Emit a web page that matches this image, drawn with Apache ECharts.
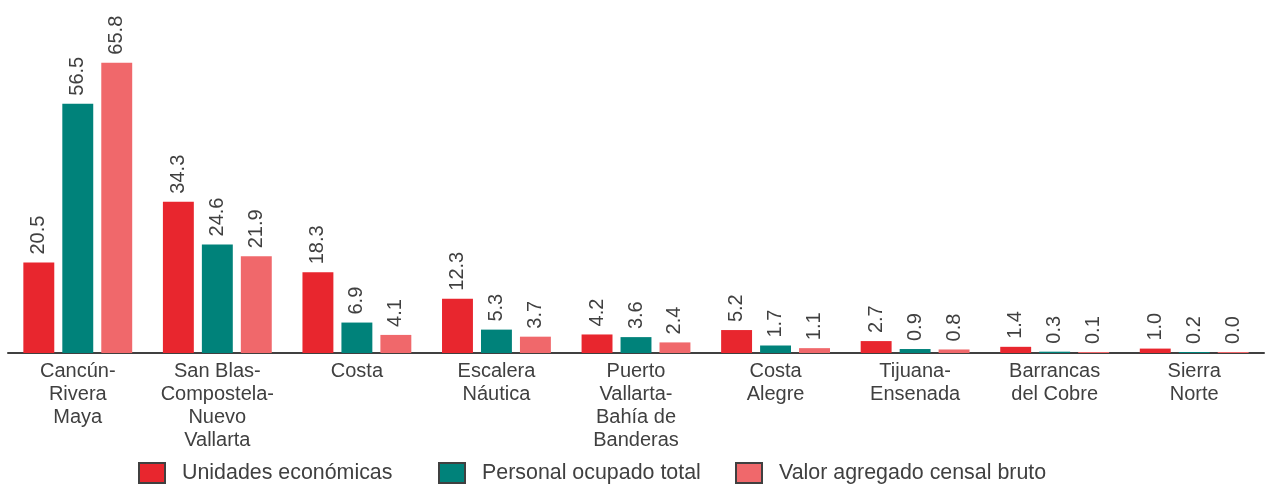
<!DOCTYPE html>
<html>
<head>
<meta charset="utf-8">
<script src="https://cdn.jsdelivr.net/npm/echarts@6/dist/echarts.min.js"></script>
<style>html,body{margin:0;padding:0;background:#fff}#c{width:1265px;height:486px}</style>
</head>
<body>
<div id="c"></div>
<script>
const categories = ["Cancún-\nRivera\nMaya", "San Blas-\nCompostela-\nNuevo\nVallarta", "Costa", "Escalera\nNáutica", "Puerto\nVallarta-\nBahía de\nBanderas", "Costa\nAlegre", "Tijuana-\nEnsenada", "Barrancas\ndel Cobre", "Sierra\nNorte"];
const seriesNames = ["Unidades económicas", "Personal ocupado total", "Valor agregado censal bruto"];
const unidades = [20.5, 34.3, 18.3, 12.3, 4.2, 5.2, 2.7, 1.4, 1.0];
const personal = [56.5, 24.6, 6.9, 5.3, 3.6, 1.7, 0.9, 0.3, 0.2];
const valor = [65.8, 21.9, 4.1, 3.7, 2.4, 1.1, 0.8, 0.1, 0.0];
const colors = ["#E8262E", "#00827A", "#F0686B"];

const font = "'Liberation Sans', Arial, sans-serif";
function mk(name, data, color) {
  return {
    name: name, type: 'bar', data: data,
    itemStyle: { color: color },
    barGap: '26%', barCategoryGap: '22%', barMinHeight: 1,
    label: {
      show: true, position: 'top', rotate: 90, align: 'left', verticalAlign: 'middle',
      distance: 8, color: '#404040', fontSize: 20, fontFamily: font,
      formatter: p => p.value.toFixed(1)
    }
  };
}
const legendLefts = [133, 433, 730];
const legends = seriesNames.map((n, i) => ({
  left: legendLefts[i], top: 457, itemWidth: 26, itemHeight: 20,
  icon: 'rect',
  itemStyle: { borderColor: '#404040', borderWidth: 2 },
  textStyle: { color: '#404040', fontSize: 21.4, fontFamily: font, padding: [0, 0, 0, 12] },
  data: [n]
}));
const chart = echarts.init(document.getElementById('c'));
chart.setOption({
  animation: false,
  backgroundColor: '#fff',
  grid: { left: 8, right: 1, top: 0, bottom: 133, containLabel: false },
  legend: legends,
  xAxis: {
    type: 'category', data: categories,
    axisLine: { lineStyle: { color: '#404040', width: 2 } },
    axisTick: { show: false },
    axisLabel: { interval: 0, color: '#404040', fontSize: 20, fontFamily: font, lineHeight: 23, margin: 7 }
  },
  yAxis: { type: 'value', min: 0, max: 80, show: false, splitLine: { show: false } },
  series: [mk(seriesNames[0], unidades, colors[0]), mk(seriesNames[1], personal, colors[1]), mk(seriesNames[2], valor, colors[2])]
});
</script>
</body>
</html>
